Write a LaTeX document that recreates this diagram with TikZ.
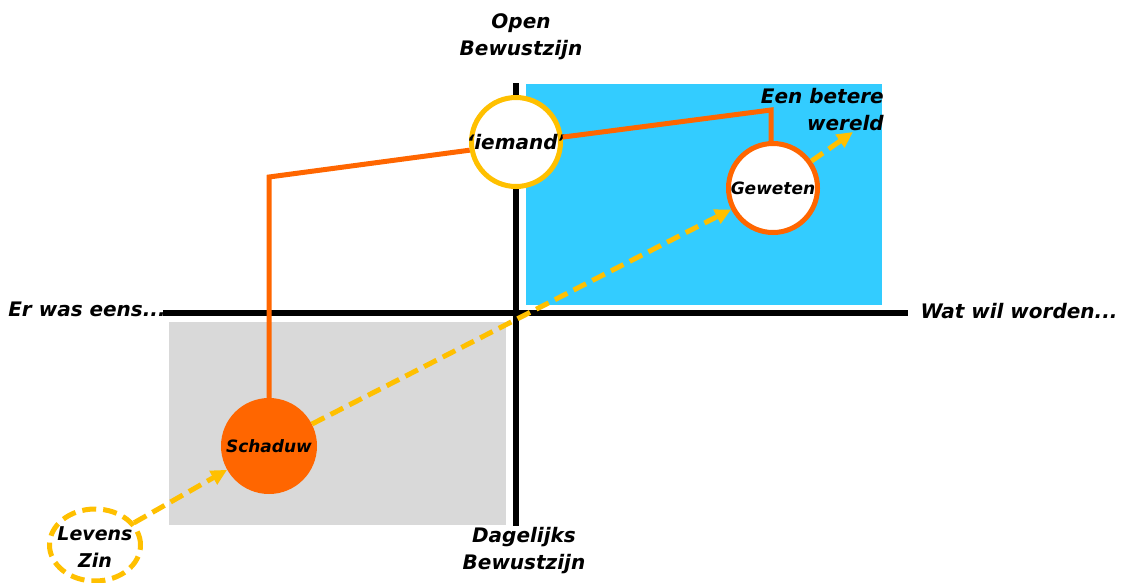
\documentclass[tikz,border=0pt]{standalone}
\usepackage{fontspec}
\setmainfont{DejaVu Sans}
\usetikzlibrary{arrows.meta,shapes.geometric}
\definecolor{skyblue}{HTML}{33CCFF}
\definecolor{lgray}{HTML}{D9D9D9}
\definecolor{orng}{HTML}{FF6600}
\definecolor{gold}{HTML}{FFC000}
\begin{document}
\begin{tikzpicture}[x=1pt,y=-1pt,
  lbl/.style={font=\fontsize{20}{27}\selectfont\bfseries\itshape, align=center, inner sep=0pt},
  small/.style={font=\fontsize{17}{24}\selectfont\bfseries\itshape},
  axisline/.style={line width=6pt},
  link/.style={orng, line width=5pt},
  flow/.style={gold, line width=5pt, dash pattern=on 14pt off 7pt, -{Triangle[length=16pt,width=15pt]}},
  ring/.style={circle, fill=white, line width=5pt, minimum size=89pt, inner sep=0pt, lbl},
]
\useasboundingbox (0,0) rectangle (1122,582);
% quadrants
\fill[skyblue] (526,84) rectangle (882,305);
\fill[lgray] (169,322) rectangle (506,525);
% axes
\coordinate (top) at (516,83);
\coordinate (bottom) at (516,526);
\coordinate (left) at (163,313);
\coordinate (right) at (908,313);
\draw[axisline] (top) -- (bottom);
\draw[axisline] (left) -- (right);
% labels
\node[lbl] (open) at (521,37) {Open\\Bewustzijn};
\node[lbl] (dag) at (524,551) {Dagelijks\\Bewustzijn};
\node[lbl] (er) at (87,309) {Er was eens...};
\node[lbl] (wat) at (1019,311) {Wat wil worden...};
\node[lbl, align=right, anchor=east] (beter) at (884,110) {Een betere\\wereld};
% nodes
\node[ring, draw=gold] (iemand) at (516,142) {\makebox[0pt]{‘iemand’}};
\node[ring, draw=orng, small] (geweten) at (773,188) {Geweten};
\node[circle, fill=orng, minimum size=96pt, inner sep=0pt, lbl, small] (schaduw) at (269,446) {Schaduw};
\node[ellipse, draw=gold, line width=5pt, dash pattern=on 14pt off 7pt, fill=white, minimum width=91pt, minimum height=72pt, inner sep=0pt] (levens) at (95,545) {};
\node[lbl, font=\fontsize{19}{27}\selectfont\bfseries\itshape] (levenstext) at (95,547) {Levens\\Zin};
% orange links
\coordinate (c1) at (269,177);
\coordinate (c2) at (771,110);
\draw[link] (iemand.190) -- (c1) -- (schaduw.north);
\draw[link] (iemand.6) -- (c2) -- (c2 |- geweten.north);
% yellow flows
\coordinate (goal) at (853,132);
\draw[flow] (levens) -- (schaduw);
\draw[flow] (schaduw) -- (geweten);
\draw[flow] (geweten) -- (goal);
\end{tikzpicture}
\end{document}
